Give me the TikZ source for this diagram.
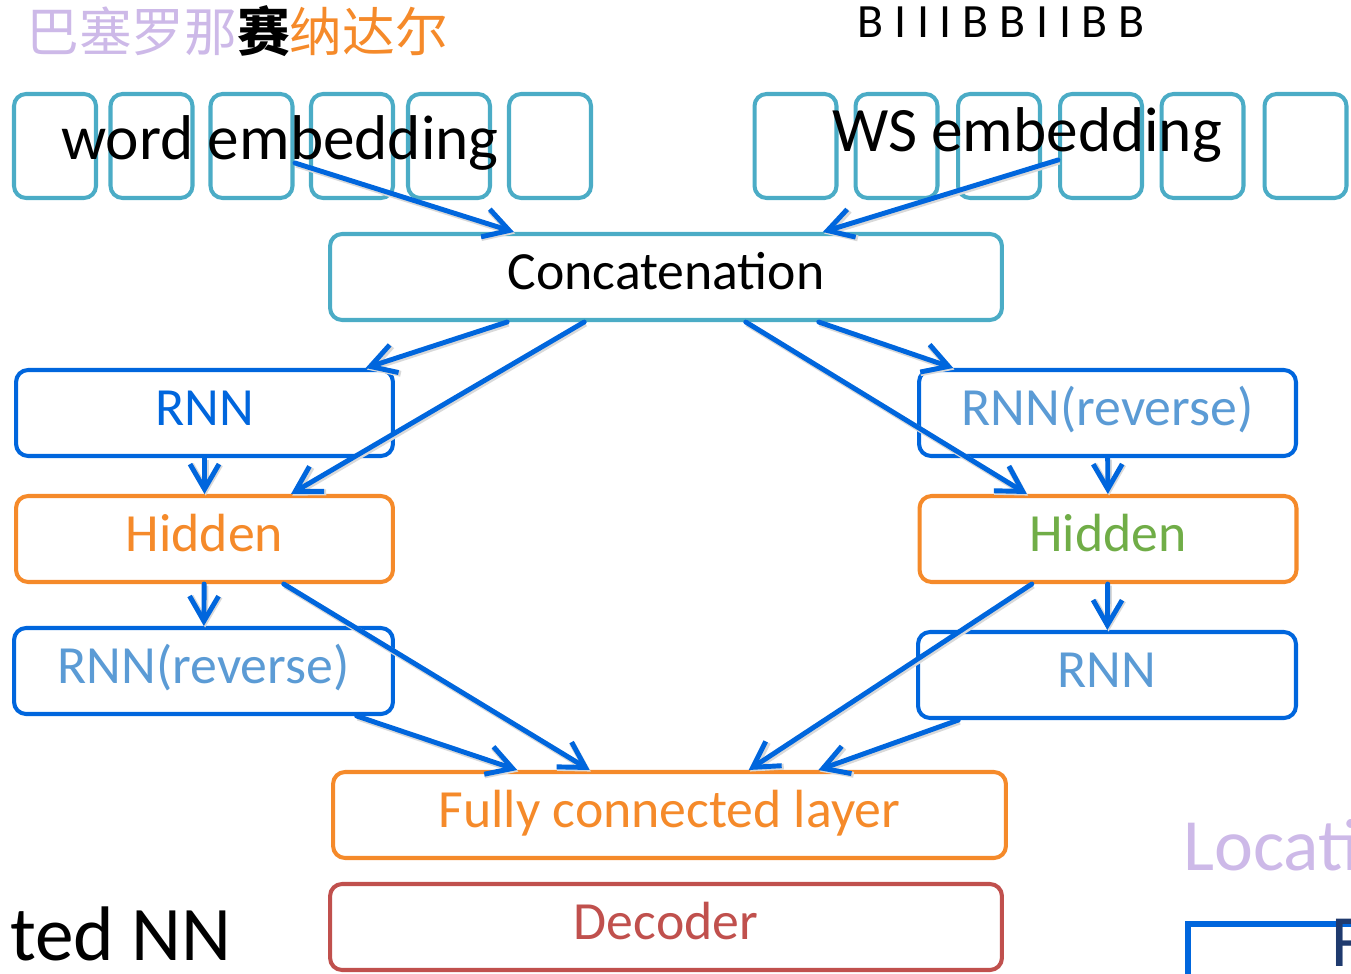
\documentclass[tikz,border=0pt]{standalone}
\usepackage{fontspec}
\setmainfont{Carlito}
\newfontfamily\cjk{Noto Sans CJK SC}
\usetikzlibrary{arrows.meta,calc}
\definecolor{embteal}{HTML}{4BACC6}
\definecolor{rnnblue}{HTML}{0066DD}
\definecolor{revblue}{HTML}{5B9BD5}
\definecolor{hidorange}{HTML}{F58A2A}
\definecolor{hidgreen}{HTML}{70AD47}
\definecolor{decred}{HTML}{C0504D}
\definecolor{lavender}{HTML}{CDB9E8}
\definecolor{navy}{HTML}{1F3A6E}
\tikzset{
	box/.style={draw, line width=2.3pt, rounded corners=0.24cm, minimum width=7.54cm,
		minimum height=1.72cm, inner sep=0pt, text height=0.86cm, text depth=0.37cm,
		font=\fontsize{30.6}{34}\selectfont},
	embbox/.style={draw=embteal, line width=2.3pt, rounded corners=0.24cm,
		minimum width=1.64cm, minimum height=2.08cm, inner sep=0pt},
	flow/.style={draw=rnnblue, line width=2.8pt, line cap=round,
		-{Straight Barb[length=5mm,width=5.8mm]},
		preaction={draw=black!15, line width=3.4pt, transform canvas={shift={(0.7pt,-0.9pt)}}}},
}
\begin{document}
\begin{tikzpicture}[x=0.02cm, y=-0.02cm]
	\useasboundingbox (0,0) rectangle (1351,973);
	\clip (0,0) rectangle (1351,973);
	% titles
	\node[anchor=base west, inner sep=0pt, font=\cjk\fontsize{30}{34}\selectfont] (title) at (26,52)
		{\textcolor{lavender}{巴塞罗那}\textcolor{black}{\bfseries 赛}\textcolor{hidorange}{纳达尔}};
	\node[anchor=base west, inner sep=0pt, font=\fontsize{27.2}{30}\selectfont] (tags) at (857,38)
		{B I I I B B I I B B};
	% embedding cells
	\foreach \i/\x in {1/55, 2/151.5, 3/251.5, 4/352, 5/449, 6/550}
		\node[embbox] (w\i) at (\x,146) {};
	\foreach \i/\x in {1/795.5, 2/896.5, 3/999, 4/1101, 5/1202.5, 6/1305.5}
		\node[embbox] (s\i) at (\x,146) {};
	\node[anchor=base, inner sep=0pt, font=\fontsize{36}{40}\selectfont] (wordtxt) at (280,160) {word embedding};
	\node[anchor=base, inner sep=0pt, font=\fontsize{36}{40}\selectfont] (wstxt) at (1027,152) {WS embedding};
	% network
	\node[box, draw=embteal, minimum width=13.44cm] (concat) at (666,277) {Concatenation};
	\node[box, draw=rnnblue, text=rnnblue] (rnnL) at (204.5,413) {RNN};
	\node[box, draw=hidorange, text=hidorange] (hidL) at (204.5,539) {Hidden};
	\node[box, draw=rnnblue, text=revblue, minimum width=7.58cm] (revL) at (203.5,671) {RNN(reverse)};
	\node[box, draw=rnnblue, text=revblue] (revR) at (1107.5,413) {RNN(reverse)};
	\node[box, draw=hidorange, text=hidgreen] (hidR) at (1108,539) {Hidden};
	\node[box, draw=rnnblue, text=revblue, minimum width=7.56cm] (rnnR) at (1107,675) {RNN};
	\node[box, draw=hidorange, text=hidorange, minimum width=13.46cm] (fc) at (669.5,815) {Fully connected layer};
	\node[box, draw=decred, text=decred, minimum width=13.44cm] (dec) at (666,927) {Decoder};
	% slide leftovers
	\node[anchor=base east, inner sep=0pt, font=\fontsize{44}{48}\selectfont] (nnlabel) at (232,960) {ted NN};
	\node[anchor=base west, inner sep=0pt, text=lavender, font=\fontsize{42}{46}\selectfont] (loclabel) at (1183,870) {Locati};
	\draw[rnnblue, line width=3pt] (1400,924) -- (1188,924) -- (1188,1050);
	\node[anchor=base west, inner sep=0pt, text=navy, font=\fontsize{42}{46}\selectfont] (flabel) at (1331,966) {F};
	% connectors
	\draw[flow] ([xshift=0.3cm, yshift=-0.06cm]wordtxt.base) -- ($(concat.north west)!0.275!(concat.north east)$);
	\draw[flow] ([xshift=0.62cm, yshift=-0.16cm]wstxt.base) -- ($(concat.north west)!0.732!(concat.north east)$);
	\draw[flow] ($(concat.south west)!0.265!(concat.south east)$) -- ($(rnnL.north west)!0.923!(rnnL.north east)$);
	\draw[flow] ($(concat.south west)!0.379!(concat.south east)$) -- ($(hidL.north west)!0.727!(hidL.north east)$);
	\draw[flow] ($(concat.south west)!0.618!(concat.south east)$) -- ($(hidR.north west)!0.287!(hidR.north east)$);
	\draw[flow] ($(concat.south west)!0.726!(concat.south east)$) -- ($(revR.north west)!0.095!(revR.north east)$);
	\draw[flow] (rnnL) -- (hidL);
	\draw[flow] (hidL) -- (revL);
	\draw[flow] (revR) -- (hidR);
	\draw[flow] (hidR) -- (rnnR);
	\draw[flow] ($(hidL.south west)!0.708!(hidL.south east)$) -- ($(fc.north west)!0.382!(fc.north east)$);
	\draw[flow] ($(revL.south west)!0.9!(revL.south east)$) -- ($(fc.north west)!0.275!(fc.north east)$);
	\draw[flow] ($(hidR.south west)!0.30!(hidR.south east)$) -- ($(fc.north west)!0.617!(fc.north east)$);
	\draw[flow] ($(rnnR.south west)!0.111!(rnnR.south east)$) -- ($(fc.north west)!0.72!(fc.north east)$);
\end{tikzpicture}
\end{document}
